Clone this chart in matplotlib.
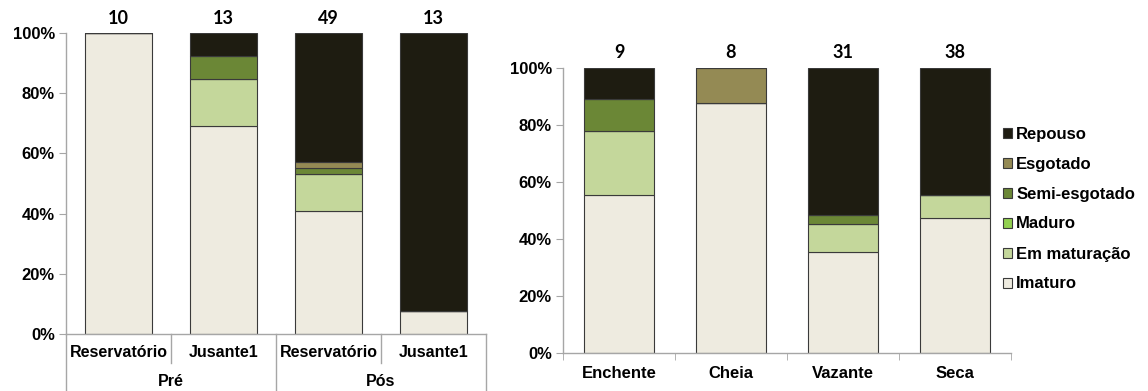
import matplotlib
matplotlib.use('Agg')
import matplotlib.pyplot as plt
from matplotlib.ticker import PercentFormatter
import numpy as np

plt.rcParams['font.family'] = 'Liberation Sans'
plt.rcParams['font.weight'] = 'bold'

# estadios de maturação gonadal
stages = ['Imaturo', 'Em maturação', 'Maduro', 'Semi-esgotado', 'Esgotado', 'Repouso']
stage_colors = ['#EEEBE0', '#C4D79B', '#92D050', '#6B8736', '#948A54', '#1E1C11']

# painel esquerdo: local x período (contagens)
left_sites = ['Reservatório', 'Jusante1', 'Reservatório', 'Jusante1']
left_periods = ['Pré', 'Pós']
left_imaturo = [10, 9, 20, 1]
left_em_maturacao = [0, 2, 6, 0]
left_maduro = [0, 0, 0, 0]
left_semi_esgotado = [0, 1, 1, 0]
left_esgotado = [0, 0, 1, 0]
left_repouso = [0, 1, 21, 12]

# painel direito: período hidrológico (contagens)
seasons = ['Enchente', 'Cheia', 'Vazante', 'Seca']
right_imaturo = [5, 7, 11, 18]
right_em_maturacao = [2, 0, 3, 3]
right_maduro = [0, 0, 0, 0]
right_semi_esgotado = [1, 0, 1, 0]
right_esgotado = [0, 1, 0, 0]
right_repouso = [1, 0, 16, 17]

AXIS_GRAY = '#A6A6A6'
EDGE = '#3A3A3A'


def stacked(ax, counts, width):
    counts = np.array(counts, dtype=float)
    totals = counts.sum(axis=0)
    props = counts / totals
    x = np.arange(counts.shape[1])
    bottom = np.zeros(counts.shape[1])
    handles = []
    for i, (name, col) in enumerate(zip(stages, stage_colors)):
        h = ax.bar(x, props[i], width, bottom=bottom, color=col,
                   edgecolor=EDGE, linewidth=0.8, label=name)
        handles.append(h)
        bottom += props[i]
    return x, totals, handles


def style_axes(ax):
    for s in ['top', 'right']:
        ax.spines[s].set_visible(False)
    for s in ['left', 'bottom']:
        ax.spines[s].set_color(AXIS_GRAY)
        ax.spines[s].set_linewidth(1)
    ax.set_ylim(0, 1)
    ax.set_yticks(np.arange(0, 1.01, 0.2))
    ax.yaxis.set_major_formatter(PercentFormatter(1.0, decimals=0))
    ax.tick_params(axis='y', length=5, color=AXIS_GRAY, labelsize=12, pad=3)
    for lbl in ax.get_yticklabels():
        lbl.set_fontweight('bold')


fig = plt.figure(figsize=(11.48, 3.91), dpi=100)

# ---- painel esquerdo ----
ax1 = fig.add_axes([66 / 1148, 1 - 334 / 391, 420 / 1148, 301 / 391])
left_counts = [left_imaturo, left_em_maturacao, left_maduro,
               left_semi_esgotado, left_esgotado, left_repouso]
x1, tot1, _ = stacked(ax1, left_counts, 0.63)
ax1.set_xlim(-0.5, len(left_sites) - 0.5)
style_axes(ax1)
ax1.set_xticks(x1)
ax1.set_xticklabels(left_sites, fontsize=11.5, fontweight='bold')
ax1.tick_params(axis='x', length=0, pad=8)
for xi, n in zip(x1, tot1):
    ax1.text(xi, 1.047, f'{int(n)}', ha='center', va='center',
             fontsize=13, fontweight='bold', family='Lato')

# separadores do eixo em dois níveis
trans = ax1.get_xaxis_transform()
for b in np.arange(-0.5, len(left_sites), 1.0):
    outer = (b + 0.5) % 2 == 0
    y_end = -0.19 if outer else -0.096
    ax1.plot([b, b], [0, y_end], color=AXIS_GRAY, lw=1, transform=trans, clip_on=False)
for j, per in enumerate(left_periods):
    ax1.text(2 * j + 0.5, -0.159, per, ha='center', va='center',
             fontsize=11.5, fontweight='bold', transform=trans)

# ---- painel direito ----
ax2 = fig.add_axes([563 / 1148, 1 - 353.3 / 391, 448 / 1148, 285.7 / 391])
right_counts = [right_imaturo, right_em_maturacao, right_maduro,
                right_semi_esgotado, right_esgotado, right_repouso]
x2, tot2, handles = stacked(ax2, right_counts, 0.62)
ax2.set_xlim(-0.5, len(seasons) - 0.5)
style_axes(ax2)
ax2.set_xticks(x2)
ax2.set_xticklabels(seasons, fontsize=12, fontweight='bold')
ax2.tick_params(axis='x', which='major', length=0, pad=9)
ax2.set_xticks(np.arange(-0.5, len(seasons), 1.0), minor=True)
ax2.tick_params(axis='x', which='minor', length=5, color=AXIS_GRAY)
for xi, n in zip(x2, tot2):
    ax2.text(xi, 1.052, f'{int(n)}', ha='center', va='center',
             fontsize=13, fontweight='bold', family='Lato')

ax2.legend(handles[::-1], stages[::-1], loc='center left',
           bbox_to_anchor=(1003 / 1148, 1 - 209 / 391), bbox_transform=fig.transFigure,
           frameon=False, prop={'size': 12, 'weight': 'bold'},
           handlelength=0.55, handleheight=0.55,
           handletextpad=0.25, labelspacing=0.9, borderaxespad=0, borderpad=0)

fig.savefig('out.png', dpi=100)
